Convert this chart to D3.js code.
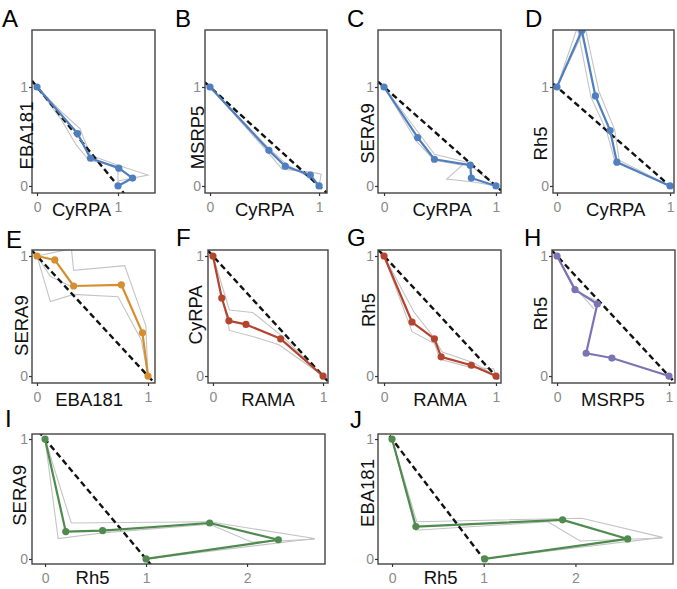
<!DOCTYPE html>
<html><head><meta charset="utf-8">
<script src="https://cdn.jsdelivr.net/npm/d3@7"></script>
<style>body{margin:0;background:#fff}svg{display:block}text{font-family:"Liberation Sans",Arial,sans-serif}</style>
</head><body>
<script>
// ---- data ----
const panelLabels = ["A","B","C","D","E","F","G","H","I","J"];
const xTitles = ["CyRPA","CyRPA","CyRPA","CyRPA","EBA181","RAMA","RAMA","MSRP5","Rh5","Rh5"];
const yTitles = ["EBA181","MSRP5","SERA9","Rh5","SERA9","CyRPA","Rh5","Rh5","SERA9","EBA181"];
const seriesColors = ["#4f7fbf","#4f7fbf","#4f7fbf","#4f7fbf","#d58f2f","#b3452f","#b3452f","#7b74b4","#4f8a4f","#4f8a4f"];
const xTickValues = [[0,1],[0,1],[0,1],[0,1],[0,1],[0,1],[0,1],[0,1],[0,1,2],[0,1,2]];
const yTickValues = [0,1];

const mainA = [[0,1],[0.5,0.53],[0.66,0.28],[1.01,0.18],[1.18,0.08],[1.0,0]];
const mainB = [[0,1],[0.54,0.36],[0.69,0.2],[0.92,0.11],[1,0]];
const mainC = [[0,1],[0.3,0.49],[0.45,0.27],[0.77,0.21],[0.78,0.08],[1,0]];
const mainD = [[0,1],[0.22,1.57],[0.34,0.91],[0.47,0.56],[0.53,0.24],[1,0]];
const mainE = [[0,1],[0.16,0.967],[0.33,0.75],[0.76,0.76],[0.95,0.36],[1,0]];
const mainF = [[0,1],[0.08,0.65],[0.145,0.46],[0.3,0.43],[0.615,0.31],[1,0]];
const mainG = [[0,1],[0.25,0.45],[0.45,0.31],[0.51,0.16],[0.78,0.09],[1,0]];
const mainH = [[0,1],[0.16,0.72],[0.36,0.6],[0.26,0.19],[0.49,0.15],[1,0]];
const mainI = [[0,1],[0.205,0.228],[0.57,0.237],[1.63,0.3],[2.31,0.16],[1.0,0]];
const mainJ = [[0,1],[0.26,0.27],[1.86,0.326],[2.57,0.167],[1.01,0]];

const greyA = [[[0,1],[0.3,0.75],[0.53,0.58],[0.66,0.31],[1.0,0.21],[1.37,0.11],[1.0,0.05]],
               [[0,1],[0.3,0.67],[0.48,0.42],[0.64,0.26],[1.0,0.2],[1.0,0.0]]];
const greyB = [[[0,1],[0.54,0.33],[0.66,0.17],[0.93,0.14],[1.02,0.12],[1.0,0]],
               [[0,1],[0.54,0.38],[0.7,0.22],[0.92,0.08],[1.0,0]]];
const greyC = [[[0,1],[0.32,0.52],[0.45,0.32],[0.74,0.24],[1,0]],
               [[0,1],[0.29,0.45],[0.45,0.26],[0.7,0.21],[0.56,0.07],[0.8,0.04],[1,0]]];
const greyD = [[[0,1],[0.18,1.6],[0.3,0.9],[0.44,0.55],[0.51,0.26],[1,0]],
               [[0,1],[0.25,1.6],[0.37,0.96],[0.51,0.57],[0.55,0.26],[1,0]]];
const greyE = [[[0,1],[0.31,1.06],[0.33,0.88],[0.79,0.92],[0.98,0.42],[1,0]],
               [[0,1],[0.12,0.62],[0.33,0.68],[0.73,0.66],[0.94,0.3],[1,0]],
               [[0,1],[0.12,0.83],[0.32,0.74]]];
const greyF = [[[0,1],[0.15,0.55],[0.36,0.53],[0.63,0.33],[1,0]],
               [[0,1],[0.15,0.38],[0.36,0.33],[0.6,0.26],[1,0]]];
const greyG = [[[0,1],[0.27,0.53],[0.43,0.34],[0.52,0.2],[0.8,0.11],[1,0]],
               [[0,1],[0.25,0.37],[0.45,0.27],[0.5,0.14],[0.78,0.07],[0.98,0.06],[1,0]]];
const greyH = [[[0,1],[0.13,0.77],[0.33,0.56]],
               [[0,1],[0.18,0.7],[0.37,0.62]]];
const greyI = [[[0,1],[0.26,0.3],[1.63,0.31],[2.67,0.17],[1.0,0.0]],
               [[0,1],[0.13,0.17],[0.6,0.22],[1.63,0.29],[2.05,0.14],[2.67,0.165]]];
const greyJ = [[[0,1],[0.27,0.31],[2.07,0.34],[2.95,0.18],[1.0,0]],
               [[0,1],[0.26,0.24],[1.7,0.31],[2.05,0.15],[2.95,0.175]]];

const mains = [mainA,mainB,mainC,mainD,mainE,mainF,mainG,mainH,mainI,mainJ];
const greys = [greyA,greyB,greyC,greyD,greyE,greyF,greyG,greyH,greyI,greyJ];

// ---- layout (pixel boxes and axis limits) ----
const boxes = [[32,30,155,193],[205,30,327,193],[378,30,501,193],[553,30,674,193],
               [32,250,155,383],[208,250,328,383],[378,250,501,383],[552,250,675,383],
               [32,434,325,564],[378,434,673,564]];
const xLims = [[-0.062,1.457],[-0.046,1.073],[-0.054,1.045],[-0.035,1.035],
               [-0.045,1.063],[-0.045,1.045],[-0.054,1.045],[-0.045,1.054],
               [-0.129,2.772],[-0.153,3.064]];
const yLims = [[-0.071,1.576],[-0.071,1.576],[-0.071,1.576],[-0.071,1.576],
               [-0.058,1.05],[-0.058,1.05],[-0.058,1.05],[-0.058,1.05],
               [-0.042,1.042],[-0.042,1.042]];
const labelPos = [[2,27],[175,27],[347,27],[525,27],[6,248],[176,246],[347,246],[524,246],[5,427],[350,428]];
const xTitlePos = [0.55,0.5,0.52,0.52,0.47,0.5,0.5,0.5,0.47,0.53];
const xTitleDy = [23,23,23,23,23,23,23,23,20,20];
const yTitleX = [26,197,367,540,21,195,368,540,19,367];
const yTitlePos = [0.51,0.49,0.53,0.43,0.42,0.51,0.55,0.52,0.53,0.55];

const W = 677, H = 589;
const svg = d3.select("body").append("svg").attr("width",W).attr("height",H);
const defs = svg.append("defs");

panelLabels.forEach((lab,i)=>{
  const [l,t,r,b] = boxes[i];
  const x = d3.scaleLinear().domain(xLims[i]).range([l,r]);
  const y = d3.scaleLinear().domain(yLims[i]).range([b,t]);
  const g = svg.append("g");
  defs.append("clipPath").attr("id","clip"+i).append("rect")
    .attr("x",l).attr("y",t).attr("width",r-l).attr("height",b-t);
  const plot = g.append("g").attr("clip-path",`url(#clip${i})`);
  const line = d3.line().x(d=>x(d[0])).y(d=>y(d[1]));
  greys[i].forEach(gs=>{
    plot.append("path").attr("d",line(gs)).attr("fill","none")
      .attr("stroke","#c4c4c4").attr("stroke-width",1.1);
  });
  // dashed diagonal y = 1 - x
  const dx = xLims[i];
  plot.append("path").attr("d",line([[dx[0],1-dx[0]],[dx[1],1-dx[1]]]))
    .attr("fill","none").attr("stroke","#111").attr("stroke-width",2.4)
    .attr("stroke-dasharray","6,3.5");
  plot.append("path").attr("d",line(mains[i])).attr("fill","none")
    .attr("stroke",seriesColors[i]).attr("stroke-width",2.2).attr("stroke-linejoin","round");
  plot.selectAll("circle.pt").data(mains[i]).enter().append("circle")
    .attr("cx",d=>x(d[0])).attr("cy",d=>y(d[1])).attr("r",3.6)
    .attr("fill",seriesColors[i]);
  // box
  g.append("rect").attr("x",l).attr("y",t).attr("width",r-l).attr("height",b-t)
    .attr("fill","none").attr("stroke","#444").attr("stroke-width",1.4);
  // axes
  const ax = g.append("g").attr("transform",`translate(0,${b})`)
    .call(d3.axisBottom(x).tickValues(xTickValues[i]).tickSize(3).tickPadding(6).tickFormat(d3.format("d")));
  const ay = g.append("g").attr("transform",`translate(${l},0)`)
    .call(d3.axisLeft(y).tickValues(yTickValues).tickSize(3).tickPadding(1).tickFormat(d3.format("d")));
  [ax,ay].forEach(a=>{
    a.select(".domain").remove();
    a.selectAll(".tick line").attr("stroke","#333").attr("stroke-width",1.2);
    a.selectAll(".tick text").attr("fill","#8a8a8a").style("font-size","14px")
      .style("font-family","'Liberation Sans',Arial,sans-serif");
  });
  // titles
  g.append("text").attr("x",x(xTitlePos[i])).attr("y",b+xTitleDy[i])
    .attr("text-anchor","middle").style("font-size","18.5px").attr("fill","#111").text(xTitles[i]);
  g.append("text").attr("transform",`translate(${yTitleX[i]+6.5},${y(yTitlePos[i])}) rotate(-90)`)
    .attr("text-anchor","middle").style("font-size","18.5px").attr("fill","#111").text(yTitles[i]);
  g.append("text").attr("x",labelPos[i][0]).attr("y",labelPos[i][1])
    .style("font-size","24px").attr("fill","#000").text(lab);
});
</script>
</body></html>
